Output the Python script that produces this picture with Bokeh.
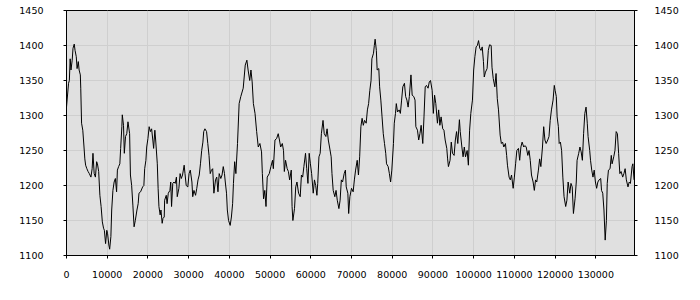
from bokeh.plotting import figure
from bokeh.models import LinearAxis, FixedTicker, ColumnDataSource, Range1d
from bokeh.embed import file_html
from bokeh.resources import INLINE

positions = [
    0, 500, 700, 900, 1100, 1400, 1600, 1900, 2100, 2400, 2600, 2900, 3100, 3400, 3500, 3700,
    4000, 4300, 4500, 4700, 5000, 5300, 5600, 6000, 6300, 6500, 6800, 7100, 7400, 7600, 7900,
    8200, 8500, 8800, 9100, 9300, 9600, 9900, 10100, 10400, 10600, 10900, 11100, 11400, 11700,
    12000, 12300, 12500, 12800, 13100, 13300, 13600, 13700, 14000, 14200, 14500, 14800, 15100,
    15500, 15700, 16000, 16300, 16600, 16900, 17300, 17600, 17800, 18200, 18700, 19000, 19200,
    19500, 19700, 20000, 20300, 20600, 20900, 21200, 21400, 21700, 21900, 22300, 22500, 22700,
    23000, 23200, 23500, 23700, 24000, 24100, 24500, 24700, 25000, 25400, 25600, 25800, 26100,
    26400, 26700, 27000, 27200, 27600, 27900, 28200, 28500, 28900, 29100, 29400, 29800, 30100,
    30400, 30800, 31000, 31300, 31700, 32000, 32300, 32600, 32900, 33200, 33500, 33700, 34000,
    34400, 34700, 35000, 35300, 35600, 35900, 36200, 36600, 36900, 37200, 37500, 37900, 38200,
    38500, 38800, 39000, 39300, 39500, 39800, 40200, 40500, 40800,
    41000, 41300, 41600, 42000, 42400, 42800, 43400, 43900, 44300, 44600, 45000, 45300, 45600,
    45900, 46300, 46700, 47100, 47500, 47900, 48100, 48400, 48700, 49000, 49300, 49800, 50200,
    50600, 50800, 51200, 51600, 52000, 52300, 52600, 53000, 53300, 53500, 53800, 54200, 54500,
    54800, 55200, 55400, 55600, 56000, 56300, 56600, 57000, 57400, 57700, 58000, 58300, 58700,
    59000, 59300, 59600, 59900, 60200, 60600, 60900, 61200, 61500, 61700, 62000, 62300, 62600,
    63000, 63300, 63700, 64000, 64300, 64600, 65000, 65200, 65500, 65900, 66200, 66500, 66900,
    67200, 67500, 67800, 68200, 68500, 68700, 69100, 69300, 69600, 70000, 70400, 70700, 71000,
    71400, 71700, 72000, 72300, 72600, 72900, 73200, 73600, 73900, 74200, 74500, 74800, 75000,
    75400, 75600, 75800, 76100, 76300, 76700, 76900, 77200, 77500, 77800, 78100, 78400, 78600,
    79000, 79300, 79600, 79900, 80300, 80500, 80800, 81000, 81300, 81700, 82000, 82300, 82600,
    83000, 83300, 83600, 83900, 84200, 84600, 84900, 85300, 85600, 85800, 86200, 86500, 86800,
    87100, 87500, 87800, 88100, 88400, 88800, 89100, 89400, 89800, 90100, 90400, 90700, 91100,
    91400, 91700, 92000, 92400, 92700, 93000, 93400, 93600, 93800, 94200, 94500, 94800, 95200,
    95500, 95800, 96100, 96500,
    96700, 97100, 97400, 97700, 98000, 98400, 98700, 99000, 99300, 99700, 100000, 100300,
    100600, 100900, 101200, 101500, 101800, 102100, 102400, 102600, 102900, 103300, 103600,
    103900, 104300, 104500, 104800, 105200, 105500, 105800, 106100, 106500, 106800, 107100,
    107400, 107800, 108100, 108300, 108700, 109000, 109300, 109700, 110000, 110300, 110600,
    111000, 111300, 111600, 111900, 112300, 112600, 112900, 113300, 113600, 113900, 114200,
    114600, 114900, 115200, 115500, 115900, 116200, 116500, 116900, 117200, 117500, 117800,
    118200, 118500, 118800, 119100, 119500, 119800, 120000, 120300, 120500, 120800, 121000,
    121300, 121600, 121900, 122200, 122600, 122900, 123200, 123600, 123900, 124200, 124500,
    124900, 125200, 125400, 125800, 126100, 126400, 126700, 127000, 127300, 127600, 127900,
    128100, 128500, 128700, 129000, 129300, 129600, 129900, 130200, 130500, 130800, 131200,
    131400, 131700, 132000, 132300, 132600, 132800, 133100, 133500, 133800, 134000, 134400,
    134700, 135000, 135300, 135600, 135900, 136200, 136600, 136900, 137200, 137500, 137900,
    138200, 138500, 138900, 139100, 139400,
]

values = [
    1312, 1346, 1350, 1381, 1365, 1379, 1396, 1402, 1393, 1384, 1367, 1377, 1365, 1358, 1339, 1289,
    1279, 1255, 1238, 1229, 1224, 1220, 1217, 1212, 1224, 1246, 1217, 1212, 1234, 1231, 1220,
    1186, 1170, 1148, 1139, 1136, 1117, 1136, 1131, 1115, 1109, 1127, 1165, 1193, 1205,
    1210, 1191, 1222, 1227, 1231, 1253, 1284, 1301, 1286, 1246, 1270, 1274, 1291,
    1274, 1215, 1200, 1172, 1141, 1150, 1165, 1174, 1189, 1191, 1198, 1200, 1224,
    1236, 1255, 1267, 1284, 1277, 1281, 1265, 1253, 1279, 1265, 1231, 1196, 1170,
    1158, 1165, 1146, 1153, 1155, 1179, 1186, 1174, 1189, 1193, 1205, 1170, 1203,
    1205, 1203, 1212, 1184, 1196, 1217, 1210, 1215, 1229, 1217, 1200, 1198, 1217,
    1222, 1205, 1184, 1193, 1186, 1196, 1208, 1215, 1231, 1250, 1262, 1277, 1281,
    1277, 1260, 1243, 1217, 1222, 1224, 1189, 1208, 1212, 1191, 1217, 1210, 1215,
    1227, 1217, 1205, 1189, 1165, 1150, 1143, 1155, 1174,
    1203, 1234, 1217, 1260, 1317, 1327, 1339, 1372, 1379, 1365, 1350, 1365, 1348,
    1317, 1303, 1277, 1255, 1260, 1248, 1217, 1181, 1193, 1170, 1212, 1217, 1227,
    1236, 1224, 1265, 1267, 1274, 1265, 1255, 1260, 1250, 1220, 1236, 1224, 1220,
    1208, 1222, 1170, 1150, 1167, 1198, 1205, 1189, 1184, 1215, 1212, 1227, 1246,
    1224, 1203, 1246, 1231, 1217, 1189, 1208, 1200, 1186, 1203, 1241, 1246, 1274,
    1293, 1274, 1270, 1281, 1265, 1255, 1241, 1217, 1193, 1184, 1193, 1179, 1167,
    1179, 1208, 1205, 1217, 1222, 1198, 1189, 1160, 1184, 1196, 1191, 1208, 1222,
    1236, 1215, 1241, 1284, 1296, 1286, 1293, 1289, 1308, 1317, 1336, 1350, 1381,
    1389, 1400, 1409, 1393, 1365, 1367, 1341, 1322, 1298, 1274, 1260, 1246, 1231,
    1227, 1217, 1205, 1222, 1260, 1289, 1303, 1317, 1305, 1308, 1303, 1322, 1341,
    1346, 1327, 1322, 1312, 1327, 1358, 1329, 1327, 1322, 1284, 1279, 1265, 1274,
    1286, 1260, 1298, 1341, 1343, 1339, 1348, 1350, 1336, 1303, 1329, 1317, 1289,
    1308, 1286, 1298, 1281, 1279, 1265, 1253, 1238, 1227, 1236, 1262, 1246, 1243,
    1265, 1277, 1260, 1294,
    1277, 1255, 1241, 1255, 1241, 1250, 1229, 1279, 1303, 1322, 1365, 1384,
    1398, 1400, 1407, 1396, 1393, 1398, 1377, 1355, 1362, 1367, 1393,
    1401, 1400, 1369, 1353, 1341, 1360, 1324, 1308, 1272, 1260, 1262,
    1255, 1260, 1243, 1229, 1212, 1208, 1215, 1196, 1212, 1231, 1250,
    1253, 1236, 1255, 1262, 1255, 1257, 1255, 1243, 1250, 1236, 1215,
    1205, 1193, 1208, 1205, 1222, 1238, 1227, 1255, 1284, 1265, 1260,
    1265, 1270, 1293, 1308, 1322, 1343, 1336, 1327, 1298, 1284, 1260,
    1262, 1250, 1212, 1184, 1170, 1179, 1205, 1189, 1203, 1198, 1160,
    1181, 1205, 1236, 1246, 1255, 1248, 1236, 1274, 1303, 1312, 1289,
    1270, 1250, 1236, 1222, 1212, 1222, 1205, 1196, 1205, 1208, 1210,
    1193, 1189, 1165, 1122, 1150, 1203, 1222, 1224, 1243, 1231, 1241,
    1250, 1277, 1274, 1246, 1217, 1220, 1212, 1217, 1224, 1208, 1198,
    1205, 1203, 1227, 1231, 1208,
]

x_ticks = [0, 10000, 20000, 30000, 40000, 50000, 60000, 70000, 80000, 90000,
           100000, 110000, 120000, 130000]
y_ticks = [1100, 1150, 1200, 1250, 1300, 1350, 1400, 1450]
x_limits = (0, 139500)
y_limits = (1100, 1450)

FONT = "DejaVu Sans"
FONT_SIZE = "9.5px"

src = ColumnDataSource(dict(x=positions, y=values))

p = figure(width=700, height=300, output_backend="svg", toolbar_location=None,
           x_range=Range1d(*x_limits), y_range=Range1d(*y_limits),
           min_border_left=66, min_border_right=66, min_border_top=10, min_border_bottom=45,
           background_fill_color="#e0e0e0", border_fill_color="white",
           outline_line_color="black", outline_line_width=1)

p.line("x", "y", source=src, line_color="black", line_width=1)

p.xaxis.ticker = FixedTicker(ticks=x_ticks)
p.yaxis.ticker = FixedTicker(ticks=y_ticks)
p.xaxis.formatter.use_scientific = False
p.yaxis.formatter.use_scientific = False

right = LinearAxis(ticker=FixedTicker(ticks=y_ticks))
right.formatter.use_scientific = False
p.add_layout(right, "right")

for ax in [p.xaxis[0], p.yaxis[0], right]:
    ax.axis_line_color = "black"
    ax.major_tick_line_color = "black"
    ax.major_tick_in = 0
    ax.major_tick_out = 3
    ax.minor_tick_line_color = None
    ax.major_label_text_font = FONT
    ax.major_label_text_font_size = FONT_SIZE
    ax.major_label_text_color = "black"

p.xaxis[0].major_label_standoff = 12
p.yaxis[0].major_label_standoff = 20
right.major_label_standoff = 17

p.xgrid.grid_line_color = "#cfcfcf"
p.ygrid.grid_line_color = "#cfcfcf"
p.xgrid.ticker = FixedTicker(ticks=x_ticks)
p.ygrid.ticker = FixedTicker(ticks=y_ticks)

open("out.html", "w").write(file_html(p, INLINE))
